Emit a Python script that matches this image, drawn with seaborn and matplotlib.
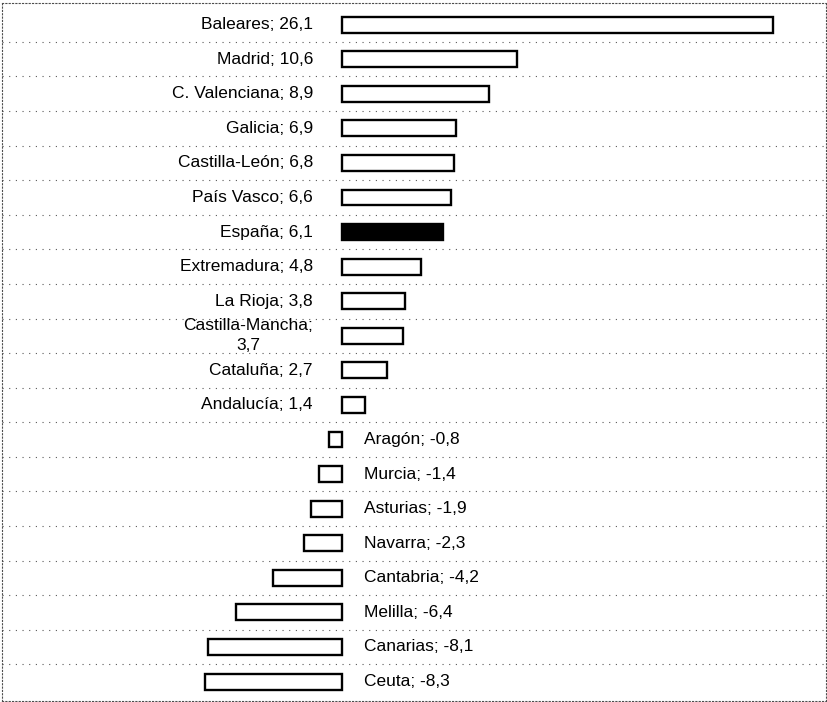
import matplotlib
matplotlib.use("Agg")
import matplotlib.pyplot as plt
import seaborn as sns
import pandas as pd

regions = ["Baleares", "Madrid", "C. Valenciana", "Galicia", "Castilla-León",
           "País Vasco", "España", "Extremadura", "La Rioja", "Castilla-Mancha",
           "Cataluña", "Andalucía", "Aragón", "Murcia", "Asturias", "Navarra",
           "Cantabria", "Melilla", "Canarias", "Ceuta"]
values = [26.1, 10.6, 8.9, 6.9, 6.8, 6.6, 6.1, 4.8, 3.8, 3.7, 2.7, 1.4,
          -0.8, -1.4, -1.9, -2.3, -4.2, -6.4, -8.1, -8.3]
highlight = "España"

df = pd.DataFrame({"region": regions, "value": values})

sns.set_theme(style="white")
plt.rcParams["font.family"] = ["Liberation Sans", "DejaVu Sans"]

fig = plt.figure(figsize=(8.28, 7.02), dpi=100)
ax = fig.add_axes([0.002, 0.002, 0.996, 0.994])

palette = {r: ("black" if r == highlight else "white") for r in regions}
sns.barplot(data=df, x="value", y="region", hue="region", palette=palette,
            legend=False, orient="h", edgecolor="black", linewidth=1.7,
            width=0.46, saturation=1, ax=ax)

for i, (name, val) in enumerate(zip(regions, values)):
    vtxt = f"{val:.1f}".replace(".", ",")
    if name == "Castilla-Mancha":
        label = f"{name};\n{vtxt}"
    else:
        label = f"{name}; {vtxt}"
    if val >= 0:
        ax.annotate(label, xy=(0, i), xytext=(-21, 0), textcoords="offset points",
                    ha="right", va="center", multialignment="center",
                    linespacing=1.45, fontsize=12.5, color="black")
    else:
        ax.annotate(label, xy=(0, i), xytext=(16, 0), textcoords="offset points",
                    ha="left", va="center", fontsize=12.5, color="black")

for i in range(len(regions) - 1):
    ax.axhline(i + 0.5, color="0.35", linestyle=(0, (1, 5)), linewidth=0.8)

ax.set_xlim(-20.6, 29.3)
ax.set_ylim(19.55, -0.63)
ax.set_xlabel("")
ax.set_ylabel("")
ax.set_xticks([])
ax.set_yticks([])
for s in ax.spines.values():
    s.set_visible(True)
    s.set_color("0.3")
    s.set_linestyle((0, (1, 2)))
    s.set_linewidth(0.8)

fig.savefig("out.png", dpi=100, facecolor="white")
